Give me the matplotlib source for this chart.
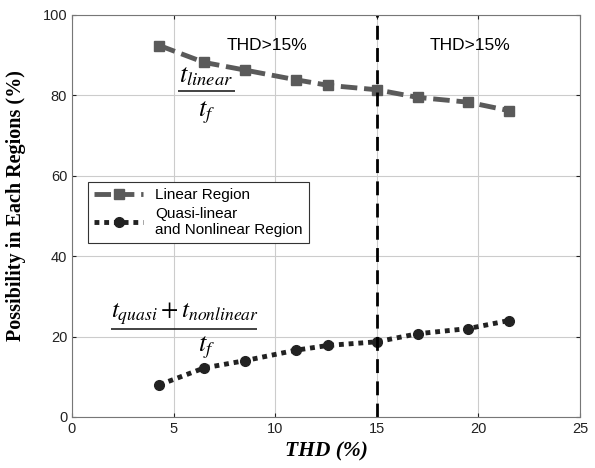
import matplotlib
matplotlib.use('Agg')
import matplotlib.pyplot as plt

plt.rcParams['font.family'] = 'Liberation Sans'
plt.rcParams['mathtext.fontset'] = 'stix'

# data
thd = [4.3, 6.5, 8.5, 11.0, 12.6, 15.0, 17.0, 19.5, 21.5]
linear_pct = [92.4, 88.2, 86.3, 83.9, 82.5, 81.4, 79.5, 78.3, 76.2]
quasi_pct = [8.0, 12.2, 14.0, 16.6, 17.8, 18.7, 20.7, 22.0, 24.0]
threshold = 15
xticks = [0, 5, 10, 15, 20, 25]
yticks = [0, 20, 40, 60, 80, 100]

fig = plt.figure(figsize=(5.95, 4.68), dpi=100)
ax = fig.add_axes([0.121, 0.109, 0.854, 0.859])

ax.plot(thd, linear_pct, color='#5a5a5a', ls=(0, (3.4, 1.4)), lw=3.5,
        marker='s', ms=7, label='Linear Region')
ax.plot(thd, quasi_pct, color='#222222', ls=(0, (1, 1)), lw=3.5,
        marker='o', ms=7, label='Quasi-linear\nand Nonlinear Region')
ax.axvline(threshold, color='black', ls=(0, (5, 3)), lw=2)

ax.set_xlim(xticks[0], xticks[-1])
ax.set_ylim(yticks[0], yticks[-1])
ax.set_xticks(xticks)
ax.set_yticks(yticks)
ax.tick_params(direction='in', labelsize=10.5, length=3, colors='#222222',
               top=True, right=True)
ax.grid(True, color='#cccccc', lw=0.8)
for s in ax.spines.values():
    s.set_color('#777777')

ax.set_xlabel('THD (%)', family='Liberation Serif', weight='bold', style='italic',
              fontsize=15.5, labelpad=4)
ax.set_ylabel('Possibility in Each Regions (%)', family='Liberation Serif',
              weight='bold', fontsize=14.5, labelpad=8)
ax.yaxis.set_label_coords(-0.09, 0.527)

ax.text(9.6, 92.5, 'THD>15%', fontsize=12.5, ha='center', va='center')
ax.text(19.6, 92.5, 'THD>15%', fontsize=12.5, ha='center', va='center')

# fraction annotations: numerator, bar, denominator
ax.text(6.6, 81.8, r'$t_{linear}$', fontsize=19, ha='center', va='bottom')
ax.hlines(81.2, 5.2, 8.0, color='#222222', lw=1.2)
ax.text(6.6, 75.6, r'$t_f$', fontsize=19, ha='center', va='center')
ax.text(5.55, 22.5, r'$t_{quasi}+t_{nonlinear}$', fontsize=18, ha='center', va='bottom')
ax.hlines(21.9, 1.9, 9.1, color='#222222', lw=1.2)
ax.text(6.6, 17.3, r'$t_f$', fontsize=19, ha='center', va='center')

leg = ax.legend(loc='upper left', bbox_to_anchor=(0.032, 0.585), fontsize=11,
                handlelength=3.2, fancybox=False, framealpha=1,
                edgecolor='#333333', borderaxespad=0, labelspacing=0.3)
leg.get_frame().set_linewidth(0.8)

fig.savefig('out.png', dpi=100)
